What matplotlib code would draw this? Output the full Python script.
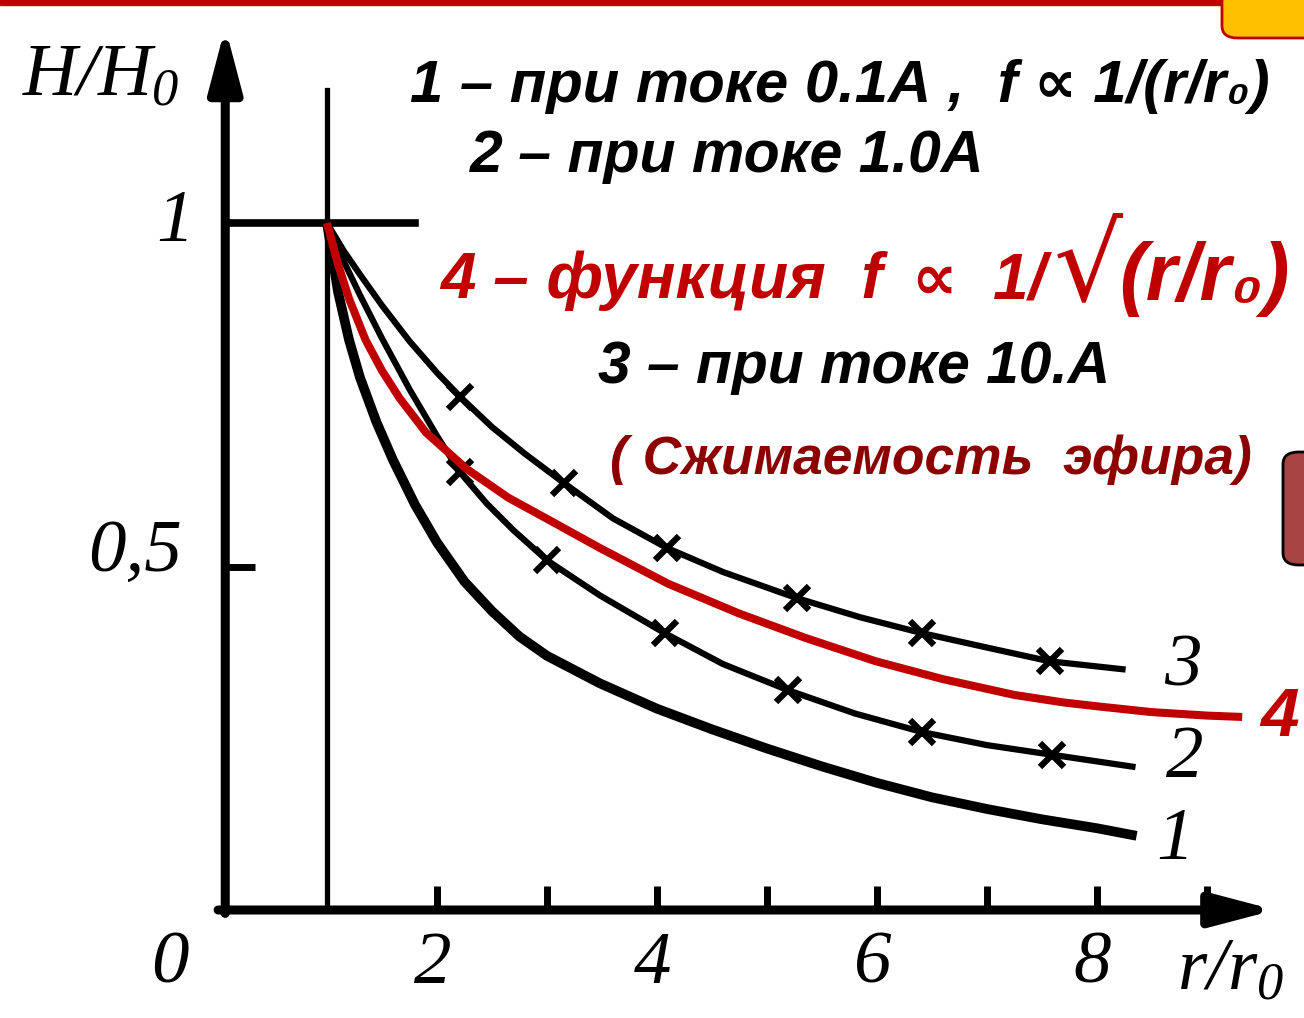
import matplotlib
matplotlib.use("Agg")
import matplotlib.pyplot as plt
from matplotlib.patches import Rectangle, FancyBboxPatch

plt.rcParams["mathtext.fontset"] = "custom"
plt.rcParams["mathtext.rm"] = "Liberation Serif:italic"
plt.rcParams["mathtext.it"] = "Liberation Serif:italic"

# curve 1: current 0.1 A
x1 = [1.0, 1.1, 1.2, 1.3, 1.45, 1.6, 1.8, 2.0, 2.25, 2.5, 2.75, 3.0, 3.48, 4.0, 4.5, 5.0, 5.5, 6.0, 6.5, 7.0, 7.5, 8.0, 8.36]
y1 = [1.0, 0.90, 0.83, 0.775, 0.71, 0.655, 0.59, 0.535, 0.478, 0.435, 0.398, 0.37, 0.33, 0.293, 0.263, 0.235, 0.209, 0.185, 0.164, 0.147, 0.132, 0.119, 0.108]

# curve 2: current 1.0 A
x2 = [1.0, 1.15, 1.3, 1.5, 1.75, 2.0, 2.21, 2.45, 2.7, 3.0, 3.48, 4.07, 4.6, 5.19, 5.8, 6.41, 7.0, 7.59, 8.35]
y2 = [1.0, 0.945, 0.895, 0.832, 0.758, 0.69, 0.637, 0.592, 0.552, 0.509, 0.458, 0.403, 0.358, 0.32, 0.286, 0.259, 0.24, 0.226, 0.208]
marks2 = [6, 9, 11, 13, 15, 17]

# curve 3: current 10 A
x3 = [1.0, 1.15, 1.3, 1.5, 1.75, 2.0, 2.21, 2.5, 2.8, 3.15, 3.6, 4.09, 4.6, 5.27, 5.85, 6.41, 7.0, 7.57, 8.26]
y3 = [1.0, 0.96, 0.925, 0.88, 0.828, 0.782, 0.747, 0.703, 0.664, 0.622, 0.57, 0.527, 0.492, 0.454, 0.426, 0.403, 0.382, 0.362, 0.35]
marks3 = [6, 9, 11, 13, 15, 17]

# curve 4: f ~ 1/sqrt(r/r0)
x4 = [1.0, 1.1, 1.2, 1.35, 1.5, 1.66, 1.9, 2.27, 2.65, 3.05, 3.48, 4.1, 4.74, 5.35, 5.99, 6.6, 7.25, 7.7, 8.03, 8.5, 9.0, 9.32]
y4 = [1.0, 0.94, 0.89, 0.83, 0.785, 0.745, 0.695, 0.642, 0.6, 0.565, 0.527, 0.475, 0.432, 0.396, 0.362, 0.336, 0.313, 0.302, 0.296, 0.288, 0.283, 0.281]

xtick_pos = [2, 3, 4, 5, 6, 7, 8, 9]
xtick_labels = ["2", "4", "6", "8"]
xtick_label_pos = [2, 4, 6, 8]

W, H = 1304, 1018
RED = "#c00000"
DARK_RED = "#8c0000"
SERIF = "Liberation Serif"
SANS = ["Liberation Sans", "DejaVu Sans"]

fig = plt.figure(figsize=(W / 100, H / 100), dpi=100)
ax = fig.add_axes([0, 0, 1, 1])
# 110 px per unit of r/r0, 687 px per unit of H/H0, origin at (217, 910)
ax.set_xlim(-217 / 110, (W - 217) / 110)
ax.set_ylim((910 - H) / 687, 910 / 687)
ax.axis("off")


def fpx(px, py):
    return px / W, 1 - py / H


# axes with arrows
x0 = 0.075
arrow = dict(arrowstyle="-|>,head_length=1.9,head_width=0.5", color="black",
             lw=6.5, mutation_scale=20, shrinkA=0, shrinkB=0)
ax.annotate("", xy=(9.62, 0), xytext=(0.01, 0), arrowprops=arrow)
ax.annotate("", xy=(x0, 1.285), xytext=(x0, -0.005), arrowprops=arrow)
for xt in xtick_pos:
    ax.plot([xt, xt], [0, 0.035], color="black", lw=5, solid_capstyle="butt")
ax.plot([x0, x0 + 0.27], [0.5, 0.5], color="black", lw=5, solid_capstyle="butt")
ax.plot([1, 1], [0, 1.194], color="black", lw=3.8)
ax.plot([x0, 1.8], [1, 1], color="black", lw=5.5)

# curves
line_kw = dict(solid_capstyle="butt", solid_joinstyle="round")
ax.plot(x1, y1, color="black", lw=7, **line_kw)
ax.plot(x2, y2, color="black", lw=4.5, marker="x", markevery=marks2,
        ms=17, mew=4.5, **line_kw)
ax.plot(x3, y3, color="black", lw=4.5, marker="x", markevery=marks3,
        ms=17, mew=4.5, **line_kw)
ax.plot(x4, y4, color=RED, lw=5.8, **line_kw)

# tick and axis labels
tick_font = dict(family=SERIF, style="italic", fontsize=54, ha="center", va="center")
for xl, lab in zip(xtick_label_pos, xtick_labels):
    ax.text(xl - 0.04, -0.08, lab, **tick_font)
ax.text(-0.43, -0.08, "0", **tick_font)
ax.text(-0.38, 1.0, "1", **tick_font)
ax.text(-0.75, 0.52, "0,5", **tick_font)
ax.text(-1.06, 1.215, r"$H/H_0$", fontsize=54, ha="center", va="center")
ax.text(9.21, -0.085, r"$r/r_0$", fontsize=54, ha="center", va="center")

ax.text(8.78, 0.352, "3", **tick_font)
ax.text(8.80, 0.22, "2", **tick_font)
ax.text(8.71, 0.10, "1", **tick_font)
ax.text(9.66, 0.279, "4", family="Liberation Sans", weight="bold", style="italic",
        fontsize=50, color=RED, ha="center", va="center")

# legend lines
head = dict(family=SANS, weight="bold", style="italic", ha="left", va="baseline")
fig.text(*fpx(410, 102), "1 – при токе 0.1А ,  f ∝ 1/(r/r₀)", fontsize=43, color="black", **head)
fig.text(*fpx(470, 172), "2 – при токе 1.0А", fontsize=42.5, color="black", **head)
fig.text(*fpx(440, 298), "4 – функция  f", fontsize=46, color=RED, **head)
fig.text(*fpx(912, 298), "∝  1/", fontsize=46, color=RED, **head)
fig.text(*fpx(1054, 300), "√", fontsize=78, color=RED, family=["DejaVu Sans"],
         ha="left", va="baseline")
fig.text(*fpx(1119, 300), "(r/r₀)", fontsize=58, color=RED, **head)
fig.text(*fpx(598, 383), "3 – при токе 10.А", fontsize=42.3, color="black", **head)
fig.text(*fpx(610, 474), "( Сжимаемость  эфира)", fontsize=38.4, color=DARK_RED, **head)

# slide decorations
fig.patches.append(Rectangle(fpx(0, 5), 1, 5 / H, transform=fig.transFigure,
                             color=RED, zorder=0))
fig.patches.append(FancyBboxPatch(fpx(1222, 38), 0.1, 60 / H, transform=fig.transFigure,
                                  boxstyle="round,pad=0,rounding_size=0.012",
                                  fc="#ffc000", ec=RED, lw=2, zorder=1))
fig.patches.append(FancyBboxPatch(fpx(1283, 565), 0.05, 113 / H, transform=fig.transFigure,
                                  boxstyle="round,pad=0,rounding_size=0.012",
                                  fc="#a84444", ec="black", lw=2, zorder=1))

fig.savefig("out.png", dpi=100)
